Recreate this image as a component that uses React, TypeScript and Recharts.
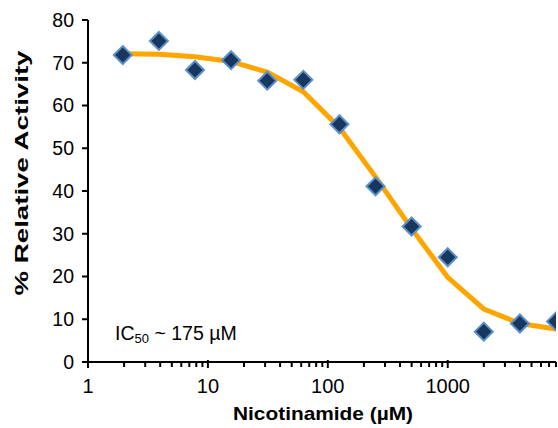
import React from 'react';
import { ComposedChart, Line, Scatter, XAxis, YAxis, Label } from 'recharts';

// concentrations (µM)
const concentrations = [1.95, 3.9, 7.8, 15.6, 31.25, 62.5, 125, 250, 500, 1000, 2000, 4000, 8000];
// measured % activity
const measured = [71.8, 75.1, 68.3, 70.6, 65.8, 66.0, 55.6, 41.1, 31.7, 24.5, 7.1, 9.0, 9.5];
// fitted curve
const fitted = [72.1, 72.0, 71.4, 70.3, 67.8, 63.2, 54.8, 43.3, 31.2, 19.8, 12.4, 9.0, 7.7];

const yTicks = [0, 10, 20, 30, 40, 50, 60, 70, 80];
const decadeTicks = [1, 10, 100, 1000];
const xTicks = [
  1, 2, 3, 4, 5, 6, 7, 8, 9,
  10, 20, 30, 40, 50, 60, 70, 80, 90,
  100, 200, 300, 400, 500, 600, 700, 800, 900,
  1000, 2000, 3000, 4000, 5000, 6000, 7000, 8000,
];

const data = concentrations.map((x, i) => ({ x, measured: measured[i], fit: fitted[i] }));

const FONT = 'Arial, "Liberation Sans", sans-serif';

const XTick = (props: any) => {
  const { x, y, payload } = props;
  const major = decadeTicks.includes(payload.value);
  return (
    <g>
      <line x1={x} x2={x} y1={y - (major ? 2 : 0)} y2={y + (major ? 6 : 5)} stroke="#000" strokeWidth={2} />
      {major && (
        <text x={x} y={y + 31} textAnchor="middle" fontSize={20} fontFamily={FONT} fill="#000">
          {payload.value}
        </text>
      )}
    </g>
  );
};

const Diamond = (props: any) => {
  const { cx, cy } = props;
  if (cx == null || cy == null) return null;
  const r = 9;
  return (
    <polygon
      points={`${cx},${cy - r} ${cx + r},${cy} ${cx},${cy + r} ${cx - r},${cy}`}
      fill="#17375E"
      stroke="#5B8FC9"
      strokeWidth={2}
    />
  );
};

const XTitle = (props: any) => {
  const { viewBox } = props;
  return (
    <text
      x={viewBox.x + viewBox.width / 2 + 1}
      y={420}
      textAnchor="middle"
      fontSize={19}
      fontWeight="bold"
      fontFamily={FONT}
      fill="#000"
      textLength={180}
      lengthAdjust="spacingAndGlyphs"
    >
      Nicotinamide (µM)
    </text>
  );
};

const YTitle = () => (
  <text
    transform="translate(28, 173) rotate(-90)"
    textAnchor="middle"
    fontSize={18}
    fontWeight="bold"
    fontFamily={FONT}
    fill="#000"
    textLength={245}
    lengthAdjust="spacingAndGlyphs"
  >
    % Relative  Activity
  </text>
);

export default function App() {
  return (
    <div style={{ position: 'absolute', left: 0, top: 0, width: 558, height: 428, background: '#fff' }}>
      <ComposedChart
        width={558}
        height={428}
        data={data}
        margin={{ top: 20, right: 2, bottom: 0, left: 0 }}
      >
        <XAxis
          dataKey="x"
          type="number"
          scale="log"
          domain={[1, 8000]}
          ticks={xTicks}
          interval={0}
          allowDataOverflow
          axisLine={{ stroke: '#000', strokeWidth: 2 }}
          tickLine={false}
          tickSize={0}
          tickMargin={0}
          tick={<XTick />}
          height={66}
        >
          <Label content={<XTitle />} />
        </XAxis>
        <YAxis
          type="number"
          domain={[0, 80]}
          ticks={yTicks}
          interval={0}
          width={88}
          axisLine={{ stroke: '#000', strokeWidth: 2 }}
          tickLine={{ stroke: '#000', strokeWidth: 2 }}
          tickSize={6}
          tickMargin={8}
          tick={{ fontSize: 19.5, fontFamily: FONT, fill: '#000' }}
        >
          <Label content={<YTitle />} />
        </YAxis>
        <Line
          dataKey="fit"
          type="linear"
          stroke="#FFA500"
          strokeWidth={5}
          dot={false}
          activeDot={false}
          isAnimationActive={false}
        />
        <Scatter dataKey="measured" shape={<Diamond />} isAnimationActive={false} />
      </ComposedChart>
      <svg
        width={558}
        height={428}
        style={{ position: 'absolute', left: 0, top: 0, pointerEvents: 'none' }}
      >
        <text x={115} y={340} fontSize={19.5} fontFamily={FONT} fill="#000">
          IC
          <tspan fontSize={13} dy={3}>50</tspan>
          <tspan dy={-3}> ~ 175 µM</tspan>
        </text>
      </svg>
    </div>
  );
}
